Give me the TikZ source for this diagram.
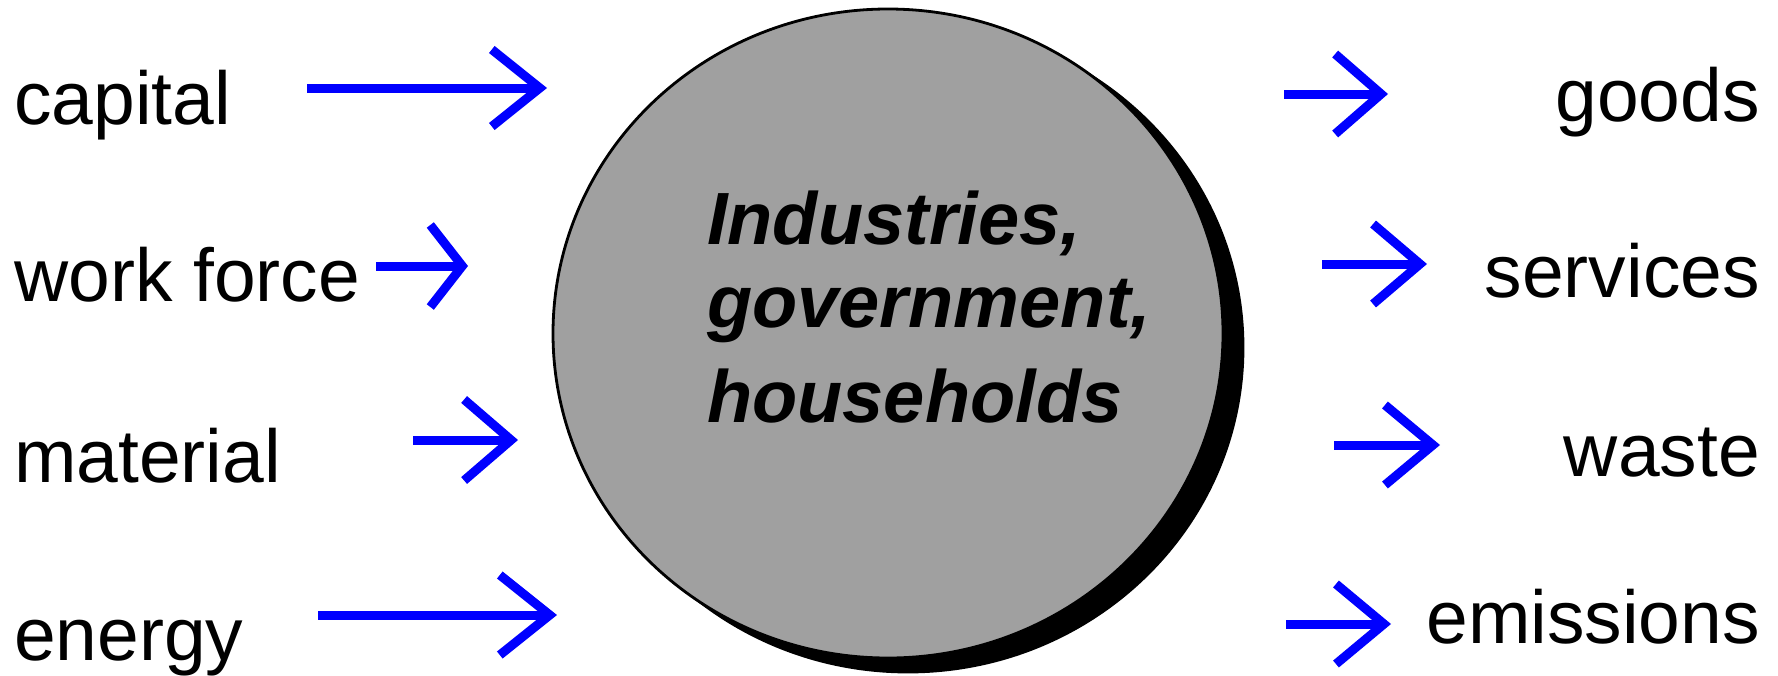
\documentclass[tikz,border=0pt]{standalone}
\usepackage{fontspec}
\setmainfont{Liberation Sans}
\usetikzlibrary{shapes.geometric,arrows.meta,shadows}
\definecolor{hubgray}{RGB}{160,160,160}
\definecolor{flowblue}{RGB}{0,0,255}
\begin{document}
\begin{tikzpicture}[x=1pt,y=-1pt,
  flowlabel/.style={inner sep=0pt, font=\fontsize{75}{90}\selectfont},
  flow/.style={draw=flowblue, line width=9pt},
  flowhead/.style 2 args={arrows={-{Straight Barb[length=#1pt,width=#2pt]}}},
  hub/.style={ellipse, inner sep=0pt, minimum width=670pt, minimum height=649pt,
    fill=hubgray, draw=black, line width=2.8pt,
    copy shadow={shadow xshift=20pt, shadow yshift=-14pt, fill=black, draw=black}},
  hubtext/.style={inner sep=0pt, align=left, font=\fontsize{74}{83}\selectfont\bfseries\itshape}]
\useasboundingbox (0,0) rectangle (1778,675);

% central node
\node[hub] (hub) at (888,333.5) {};
\node[hubtext, anchor=north west] (hubtxt) at (707,191) {Industries,\\government,\\[12pt]households};

% inputs
\node[flowlabel, anchor=base west] (capital) at (14,124) {capital};
\node[flowlabel, anchor=base west] (work) at (14,301) {work force};
\node[flowlabel, anchor=base west] (material) at (14,482) {material};
\node[flowlabel, anchor=base west] (energy) at (14,660) {energy};

% outputs
\node[flowlabel, anchor=base east] (goods) at (1760,121) {goods};
\node[flowlabel, anchor=base east] (services) at (1760,297) {services};
\node[flowlabel, anchor=base east] (waste) at (1760,476) {waste};
\node[flowlabel, anchor=base east] (emissions) at (1760,643) {emissions};

% arrow end points
\coordinate (capS) at (307,88);   \coordinate (capT) at (547,88);
\coordinate (wfS) at (376,266);   \coordinate (wfT) at (468,266);
\coordinate (matS) at (413,440);  \coordinate (matT) at (518,440);
\coordinate (enS) at (318,615);   \coordinate (enT) at (557,615);
\coordinate (goS) at (1284,94);   \coordinate (goT) at (1388,94);
\coordinate (seS) at (1322,264);  \coordinate (seT) at (1427,264);
\coordinate (waS) at (1334,445);  \coordinate (waT) at (1440,445);
\coordinate (emS) at (1286,624);  \coordinate (emT) at (1391,624);

\draw[flow, flowhead={48}{77}] (capS) -- (capT);
\draw[flow, flowhead={32}{82}] (wfS) -- (wfT);
\draw[flow, flowhead={47}{81}] (matS) -- (matT);
\draw[flow, flowhead={50}{80}] (enS) -- (enT);
\draw[flow, flowhead={46}{80}] (goS) -- (goT);
\draw[flow, flowhead={47}{80}] (seS) -- (seT);
\draw[flow, flowhead={48}{80}] (waS) -- (waT);
\draw[flow, flowhead={48}{80}] (emS) -- (emT);
\end{tikzpicture}
\end{document}
